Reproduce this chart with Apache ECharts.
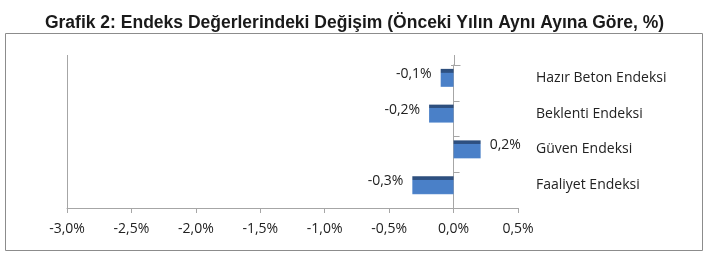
<!DOCTYPE html>
<html><head><meta charset="utf-8">
<script src="https://cdn.jsdelivr.net/npm/echarts@6/dist/echarts.min.js"></script>
<style>html,body{margin:0;padding:0;background:#fff}#c{width:709px;height:255px}</style>
</head><body><div id="c"></div>
<script>
const titleText = 'Grafik 2: Endeks Değerlerindeki Değişim (Önceki Yılın Aynı Ayına Göre, %)';
const categories = ['Faaliyet Endeksi', 'Güven Endeksi', 'Beklenti Endeksi', 'Hazır Beton Endeksi'];
const values = [-0.32, 0.21, -0.19, -0.10];
const xTicks = { min: -3, max: 0.5, interval: 0.5 };

const GA = { left: 67, right: 191, top: 65, bottom: 47 };   // axis frame
const GB = { left: 67, right: 191, top: 60, bottom: 52 };   // bar band frame
const fmt = v => v.toFixed(1).replace('.', ',') + '%';
const axisColor = '#a6a6a6';
const font = '"Open Sans", Lato, sans-serif';

const barColor = {
  type: 'linear', x: 0, y: 0, x2: 0, y2: 1,
  colorStops: [
    { offset: 0, color: '#2c4d7b' }, { offset: 0.2, color: '#2f5284' },
    { offset: 0.21, color: '#4a80c8' }, { offset: 0.95, color: '#4a80c8' },
    { offset: 1, color: '#5a8dd0' }
  ]
};

const chart = echarts.init(document.getElementById('c'), null, { renderer: 'canvas' });
chart.setOption({
  animation: false,
  title: {
    text: titleText, left: 'center', top: 9,
    textStyle: { fontFamily: '"Liberation Sans", Arial, sans-serif', fontWeight: 'bold', fontSize: 17.5, color: '#1a1a1a' }
  },
  grid: [GA, GB],
  xAxis: [
    {
      gridIndex: 0, type: 'value', min: xTicks.min, max: xTicks.max, interval: xTicks.interval,
      axisLine: { show: true, lineStyle: { color: axisColor } },
      axisTick: { show: true, length: 5, lineStyle: { color: axisColor } },
      splitLine: { show: false },
      axisLabel: { formatter: fmt, margin: 14, fontFamily: font, fontSize: 14, color: '#222' }
    },
    {
      gridIndex: 1, type: 'value', min: xTicks.min, max: xTicks.max, interval: xTicks.interval,
      show: false, splitLine: { show: false }
    }
  ],
  yAxis: [
    {
      gridIndex: 0, type: 'category', data: categories, position: 'left',
      axisLine: { show: true, onZero: true, lineStyle: { color: axisColor } },
      axisTick: { show: true, inside: true, length: 6, lineStyle: { color: axisColor } },
      axisLabel: { show: false }
    },
    {
      gridIndex: 1, type: 'category', data: categories, position: 'right',
      axisLine: { show: false }, axisTick: { show: false }, splitLine: { show: false },
      axisLabel: { show: true, margin: 18, padding: [0, 0, 8, 0], fontFamily: font, fontSize: 14, color: '#222' }
    }
  ],
  series: [{
    type: 'bar', xAxisIndex: 1, yAxisIndex: 1, barWidth: 18,
    data: values.map(v => ({
      value: v,
      label: { position: v < 0 ? 'left' : 'right' }
    })),
    itemStyle: { color: barColor },
    label: {
      show: true, distance: 9, offset: [0, -4],
      formatter: p => fmt(p.value),
      fontFamily: font, fontSize: 14, color: '#222'
    }
  }]
});

const x0 = Math.round(chart.convertToPixel({ xAxisIndex: 0 }, 0)) + 0.5;
const xl = Math.round(chart.convertToPixel({ xAxisIndex: 0 }, xTicks.min)) + 0.5;
const yTop = GA.top, yBot = 255 - GA.bottom;
chart.setOption({
  graphic: [
    { type: 'rect', shape: { x: 5.5, y: 33.5, width: 697, height: 217 }, style: { fill: 'none', stroke: '#8c8c8c', lineWidth: 1 }, z: -1 },
    { type: 'line', shape: { x1: xl, y1: yTop - 10, x2: xl, y2: yBot }, style: { stroke: axisColor, lineWidth: 1 } },
    { type: 'line', shape: { x1: x0, y1: yTop - 10, x2: x0, y2: yTop }, style: { stroke: axisColor, lineWidth: 1 } },
    { type: 'line', shape: { x1: x0 - 3.5, y1: yTop + 0.5, x2: x0 + 6, y2: yTop + 0.5 }, style: { stroke: axisColor, lineWidth: 1 } }
  ]
});
</script></body></html>
